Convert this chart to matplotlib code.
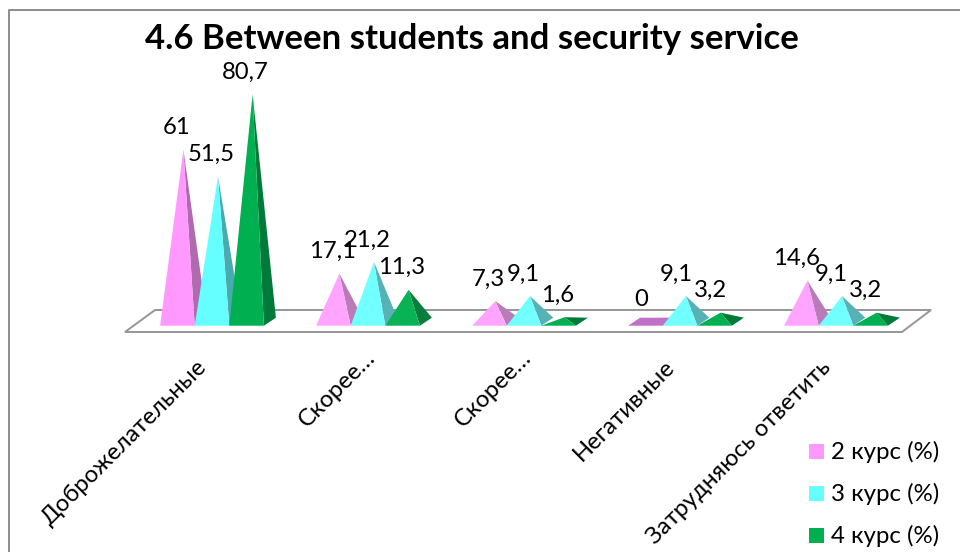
import numpy as np
import matplotlib
matplotlib.use('Agg')
import matplotlib.pyplot as plt
from matplotlib.colors import to_rgb
from matplotlib.patches import Polygon, Rectangle

plt.rcParams['font.family'] = ['Lato', 'Noto Sans', 'DejaVu Sans']

categories = ['Доброжелательные', 'Скорее…', 'Скорее…', 'Негативные', 'Затрудняюсь ответить']
series_names = ['2 курс (%)', '3 курс (%)', '4 курс (%)']
course2 = [61, 17.1, 7.3, 0, 14.6]
course3 = [51.5, 21.2, 9.1, 9.1, 9.1]
course4 = [80.7, 11.3, 1.6, 3.2, 3.2]
value_labels = [
    ['61', '17,1', '7,3', '0', '14,6'],
    ['51,5', '21,2', '9,1', '9,1', '9,1'],
    ['80,7', '11,3', '1,6', '3,2', '3,2'],
]

front_colors = ['#FF99FF', '#66FFFF', '#00B050']
side_colors = ['#B06AB0', '#48ABB0', '#007A38']
flat_colors = ['#C070C8', '#48ABB0', '#007A38']
pale_amounts = [0.12, 0.08, 0.03]

W, H = 960, 552
PX_PER_CAT = 156.0
PX_PER_VAL = 2.82
X0_PX = 212.0
Y0_PX = 321.7

fig = plt.figure(figsize=(W / 100, H / 100), dpi=100)
ax = fig.add_axes([0, 0, 1, 1])
ax.set_xlim(-X0_PX / PX_PER_CAT, (W - X0_PX) / PX_PER_CAT)
ax.set_ylim((Y0_PX - H) / PX_PER_VAL, Y0_PX / PX_PER_VAL)
ax.axis('off')

bar_w = 34.6 / PX_PER_CAT
depth_x = 12 / PX_PER_CAT
depth_y = 8 / PX_PER_VAL


def px(x, y):
    # pixel position to data units, only for furniture like the floor and frame
    return (x - X0_PX) / PX_PER_CAT, (Y0_PX - y) / PX_PER_VAL


def lighten(color, amount):
    r, g, b = to_rgb(color)
    return (r + (1 - r) * amount, g + (1 - g) * amount, b + (1 - b) * amount)


def draw_pyramid(cx, value, front, side, flat, pale):
    left = cx - bar_w / 2
    right = cx + bar_w / 2
    base = -depth_y / 2
    apex = (cx + depth_x / 2, value)
    if value == 0:
        ax.add_patch(Polygon([(left, base), (right, base), (right + depth_x, base + depth_y),
                              (left + depth_x, base + depth_y)], fc=flat, ec='none', zorder=3))
        return
    # short pyramids come out a little paler
    amount = pale if 5 < value < 30 else 0
    ax.add_patch(Polygon([(right, base), (right + depth_x, base + depth_y), apex],
                         fc=lighten(side, amount), ec='none', zorder=3))
    ax.add_patch(Polygon([(left, base), (right, base), apex],
                         fc=lighten(front, amount), ec='none', zorder=3))


# frame, only top and left edges are visible
ax.plot(*zip(px(9, 552), px(9, 10), px(960, 10)), color='#8C8C8C', lw=1.4, zorder=1)

# floor
floor = [px(125, 332), px(902, 332), px(931, 310), px(155, 310)]
ax.add_patch(Polygon(floor, fc='white', ec='#969696', lw=1.4, zorder=2))

series = [course2, course3, course4]
offsets = [-bar_w, 0, bar_w]
for s, values in enumerate(series):
    for i, v in enumerate(values):
        draw_pyramid(i + offsets[s], v, front_colors[s], side_colors[s], flat_colors[s], pale_amounts[s])

# value labels sit just above each apex, centred on the front face
group_dx = [0, 0, 0, -2.0, -3.0]
for s, values in enumerate(series):
    for i, v in enumerate(values):
        ax.annotate(value_labels[s][i], (i + offsets[s], v), xytext=(-0.7 + group_dx[i], 11.2),
                    textcoords='offset points', ha='center', va='baseline',
                    fontsize=17.2, color='black', zorder=5)

# category labels, the truncated ones end further along the slant
for i, name in enumerate(categories):
    x, y = i - bar_w / 2, px(0, 357)[1]
    shift = (13, 9) if name.endswith('…') else (0, 0)
    ax.annotate(name, (x, y), xytext=(1 + shift[0], 1 + shift[1]), textcoords='offset pixels',
                rotation=45, rotation_mode='anchor', ha='right', va='top',
                fontsize=17.2, color='black', zorder=5)

ax.text(*px(472, 39), '4.6 Between students and security service', ha='center', va='center',
        fontsize=25, fontweight='bold', color='black', zorder=5)

# legend
legend_y = [451.5, 493.5, 535.5]
for name, color, ly in zip(series_names, front_colors, legend_y):
    x, y = px(809, ly + 7.5)
    ax.add_patch(Rectangle((x, y), 15 / PX_PER_CAT, 15 / PX_PER_VAL, fc=color, ec='none', zorder=5))
    ax.text(*px(831, ly), name, ha='left', va='center', fontsize=17.3, color='black', zorder=5)

fig.savefig('out.png', dpi=100)
